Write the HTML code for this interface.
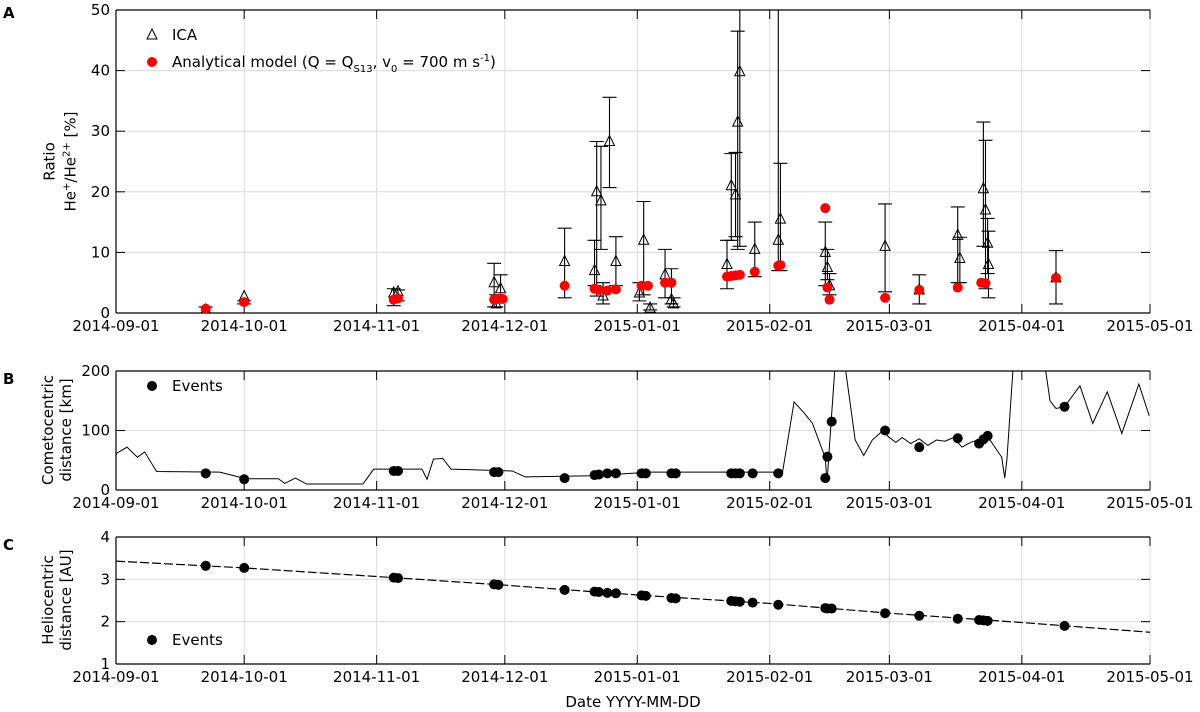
<!DOCTYPE html>
<html><head><meta charset="utf-8"><style>
html,body{margin:0;padding:0;background:#fff;}
svg{display:block;font-family:"DejaVu Sans","Liberation Sans",sans-serif;}
</style></head><body>
<svg id="fig" width="1200" height="712" viewBox="0 0 1200 712" xmlns="http://www.w3.org/2000/svg"></svg>
<script>
// ---------- data ----------
const dateTicks = ["2014-09-01","2014-10-01","2014-11-01","2014-12-01","2015-01-01","2015-02-01","2015-03-01","2015-04-01","2015-05-01"];
const dateTickDays = [0,30,61,91,122,153,181,212,242];
// Panel A: ICA ratio (days since 2014-09-01)
const icaDays = [21,30,65,66,88.5,90,89,105,112,112.5,113.5,114,115.5,117,123.5,122.5,125,128.5,130,130.5,143,144,145,145.5,146,149.5,155,155.5,166,166.5,167,180,188,197,197.5,203,203.5,204,204.2,220];
const icaVals = [0.5,2.7,3.3,3.5,5,4,1.5,8.5,7,20,18.5,2.8,28.3,8.5,12,3.3,0.8,6.3,2.2,1.5,8,21,19.5,31.5,39.8,10.5,12,15.5,10,7.5,4.5,11,3.8,12.8,9,20.5,17,11.5,8,5.8];
const icaLo = [0,1.5,1.2,2,1,2,1,2.5,4.5,2.8,10.5,1.5,20.7,4.5,3,2,0.5,2.5,1.5,1,4,12,12.6,10.5,11,6,7,7,4.5,5.5,3,3.5,1.5,5,5,11,4,6.5,2.5,1.5];
const icaHi = [1,2,4,3.8,8.2,6.3,3,14,12,28.3,27.5,5,35.6,12.6,18.4,5,1.5,10.5,7.3,2.5,12,26.3,26.5,46.5,50,15,50,24.7,15,10.5,6.5,18,6.3,17.5,12.5,31.5,28.5,15.6,13.5,10.3];
const modelDays = [21,30,65,66,88.5,89.5,90.5,105,112,113,115,117,123,124.5,128.5,130,143,144,145,146,149.5,155,155.5,166,166.5,167,180,188,197,202.5,203.5,220];
const modelVals = [0.7,1.8,2.2,2.4,2.2,2.3,2.3,4.5,4,3.8,3.7,3.9,4.5,4.5,5,5,6,6.1,6.2,6.3,6.8,7.8,7.9,17.3,4.2,2.2,2.5,3.8,4.2,5,4.9,5.8];
// Panel B: cometocentric distance
const cometDays = [0,0.2,2.6,5,6.7,9.5,24.3,30.4,38,39.5,42,44.6,57.8,60.3,71.6,72.8,74.3,76.5,78.4,92.7,95.8,111.6,125,156,158.7,161,163,166,166.4,167.5,168.3,170.6,173,175,177,179.5,180.7,182.5,184,186,188,190,192,194,196,198,200,202,204,207.3,208,208.5,210,217.4,218.6,220,222,225.6,228.6,232,235.4,239.4,241.8];
const cometVals = [58,62,72,55,64,31,30,19,19,11,20,10,10,35,35,18,52,53,35,32,22,24,30,30,148,130,112,54,12,128,210,210,84,58,84,100,90,80,88,78,86,75,84,82,88,72,80,85,90,55,20,50,210,210,150,137,140,175,112,165,95,178,125];
const eventDays = [21,30,65,66,88.5,89.5,105,112,113,115,117,123,124,130,131,144,145,146,149,155,166,166.5,167.5,180,188,197,202,203,204,222];
const eventComet = [28,18,32,32,30,30,20,25,26,28,28,28,28,28,28,28,28,28,28,28,20,56,115,100,72,87,78,85,91,140];
const eventHelio = [3.32,3.27,3.04,3.03,2.88,2.87,2.75,2.71,2.70,2.68,2.67,2.62,2.61,2.56,2.55,2.49,2.48,2.47,2.45,2.40,2.32,2.31,2.31,2.20,2.14,2.07,2.04,2.03,2.02,1.90];
// Panel C: heliocentric distance
const helioDays = [0,30,65,90,122,153,181,212,242];
const helioVals = [3.43,3.27,3.04,2.87,2.63,2.43,2.20,1.98,1.75];

// ---------- helpers ----------
const NS="http://www.w3.org/2000/svg";
const svg=document.getElementById('fig');
function mk(tag,attrs,parent){const e=document.createElementNS(NS,tag);for(const k in attrs)e.setAttribute(k,attrs[k]);(parent||svg).appendChild(e);return e;}
const X0=116,X1=1150;
const xs=d=>X0+(d/242)*(X1-X0);
function panel(name,top,bot,ymin,ymax,yticks,ylabels){
  const ys=v=>bot-(v-ymin)/(ymax-ymin)*(bot-top);
  const g=mk('g',{});
  
  
  // grid
  dateTickDays.forEach(d=>{const l=mk('line',{x1:xs(d),x2:xs(d),y1:top,y2:bot,stroke:'#dcdcdc','stroke-width':1},g);
    });
  yticks.forEach(v=>{const l=mk('line',{x1:X0,x2:X1,y1:ys(v),y2:ys(v),stroke:'#dcdcdc','stroke-width':1},g);
    });
  // axes
  mk('line',{x1:X0,x2:X1,y1:top,y2:top,stroke:'#000','stroke-width':1.2},g);
  mk('line',{x1:X0,x2:X1,y1:bot,y2:bot,stroke:'#000','stroke-width':1.2},g);
  mk('line',{x1:X0,x2:X0,y1:top,y2:bot,stroke:'#000','stroke-width':1.2},g);
  dateTickDays.forEach((d,i)=>{
    mk('line',{x1:xs(d),x2:xs(d),y1:bot,y2:bot-9,stroke:'#000'},g);
    mk('line',{x1:xs(d),x2:xs(d),y1:top,y2:top+9,stroke:'#000'},g);
    const t=mk('text',{x:xs(d),y:bot+18,'text-anchor':'middle','font-size':15},g);t.textContent=dateTicks[i];
    
  });
  yticks.forEach((v,i)=>{
    mk('line',{x1:X0,x2:X0+9,y1:ys(v),y2:ys(v),stroke:'#000'},g);
    mk('line',{x1:X1,x2:X1-9,y1:ys(v),y2:ys(v),stroke:'#000'},g);
    const t=mk('text',{x:X0-6,y:ys(v)+5,'text-anchor':'end','font-size':15},g);t.textContent=ylabels[i];
    
  });
  return {g,ys};
}
// ---------- Panel A ----------
const A=panel('panel-a-ratio',10,313,0,50,[0,10,20,30,40,50],['0','10','20','30','40','50']);
const clipA=mk('clipPath',{id:'ca'});mk('rect',{x:X0,y:10,width:X1-X0,height:303},clipA);
const gA=mk('g',{'clip-path':'url(#ca)'},A.g);
icaDays.forEach((d,i)=>{
  const x=xs(d),yl=A.ys(icaLo[i]),yh=A.ys(icaHi[i]),y=A.ys(icaVals[i]);
  const e=mk('path',{d:`M${x},${yl}V${yh}M${x-7},${yl}H${x+7}M${x-7},${yh}H${x+7}`,stroke:'#000','stroke-width':1.1,fill:'none'},gA);
  
  const t=mk('path',{d:`M${x},${y-6}L${x+5},${y+4}L${x-5},${y+4}Z`,stroke:'#000','stroke-width':1,fill:'none'},gA);
  
});
modelDays.forEach((d,i)=>{
  const c=mk('circle',{cx:xs(d),cy:A.ys(modelVals[i]),r:5,fill:'#f00'},gA);
  
});
// legend A
const lg=mk('g',{},A.g);
mk('path',{d:'M152,29L157,39L147,39Z',stroke:'#000',fill:'none'},lg);
let tt=mk('text',{x:172,y:40,'font-size':15},lg);tt.textContent='ICA';
mk('circle',{cx:152,cy:62,r:5,fill:'#f00'},lg);
tt=mk('text',{x:172,y:67,'font-size':15},lg);
tt.innerHTML='Analytical model (Q = Q<tspan font-size="10" dy="5">S13</tspan><tspan dy="-5">, v</tspan><tspan font-size="10" dy="5">0</tspan><tspan dy="-5"> = 700 m s</tspan><tspan font-size="10" dy="-6">-1</tspan><tspan dy="6">)</tspan>';
// ---------- Panel B ----------
const B=panel('panel-b-cometocentric',371,490,0,200,[0,100,200],['0','100','200']);
const clipB=mk('clipPath',{id:'cb'});mk('rect',{x:X0,y:371,width:X1-X0,height:119},clipB);
const gB=mk('g',{'clip-path':'url(#cb)'},B.g);
const lb=mk('polyline',{points:cometDays.map((d,i)=>xs(d)+','+B.ys(cometVals[i])).join(' '),fill:'none',stroke:'#000','stroke-width':1},gB);

eventDays.forEach((d,i)=>{const c=mk('circle',{cx:xs(d),cy:B.ys(eventComet[i]),r:5,fill:'#000'},gB);
  });
const lgb=mk('g',{},B.g);
mk('circle',{cx:152,cy:386,r:5,fill:'#000'},lgb);tt=mk('text',{x:172,y:391,'font-size':15},lgb);tt.textContent='Events';
// ---------- Panel C ----------
const C=panel('panel-c-heliocentric',537,664,1,4,[1,2,3,4],['1','2','3','4']);
const lc=mk('polyline',{points:helioDays.map((d,i)=>xs(d)+','+C.ys(helioVals[i])).join(' '),fill:'none',stroke:'#000','stroke-width':1.2,'stroke-dasharray':'9,3'},C.g);

eventDays.forEach((d,i)=>{const c=mk('circle',{cx:xs(d),cy:C.ys(eventHelio[i]),r:5,fill:'#000'},C.g);
  });
const lgc=mk('g',{},C.g);
mk('circle',{cx:152,cy:640,r:5,fill:'#000'},lgc);tt=mk('text',{x:172,y:645,'font-size':15},lgc);tt.textContent='Events';
</script>
<svg width="0" height="0"></svg>
<div style="position:absolute;left:0;top:0;width:1200px;height:712px;pointer-events:none;font-family:'DejaVu Sans','Liberation Sans',sans-serif;">
  <div style="position:absolute;left:3px;top:4px;font-weight:bold;font-size:15px;">A</div>
  <div style="position:absolute;left:3px;top:370px;font-weight:bold;font-size:15px;">B</div>
  <div style="position:absolute;left:3px;top:536px;font-weight:bold;font-size:15px;">C</div>
  <div style="position:absolute;left:60px;top:160px;width:200px;margin-left:-100px;text-align:center;transform:rotate(-90deg);font-size:15px;line-height:18px;margin-top:-18px;">Ratio<br>He<sup style="font-size:10px">+</sup>/He<sup style="font-size:10px">2+</sup> [%]</div>
  <div style="position:absolute;left:57px;top:430px;width:200px;margin-left:-100px;text-align:center;transform:rotate(-90deg);font-size:15px;line-height:18px;margin-top:-18px;">Cometocentric<br>distance [km]</div>
  <div style="position:absolute;left:57px;top:600px;width:200px;margin-left:-100px;text-align:center;transform:rotate(-90deg);font-size:15px;line-height:18px;margin-top:-18px;">Heliocentric<br>distance [AU]</div>
  <div style="position:absolute;left:533px;top:693px;width:200px;text-align:center;font-size:15px;">Date YYYY-MM-DD</div>
</div>
</body></html>
